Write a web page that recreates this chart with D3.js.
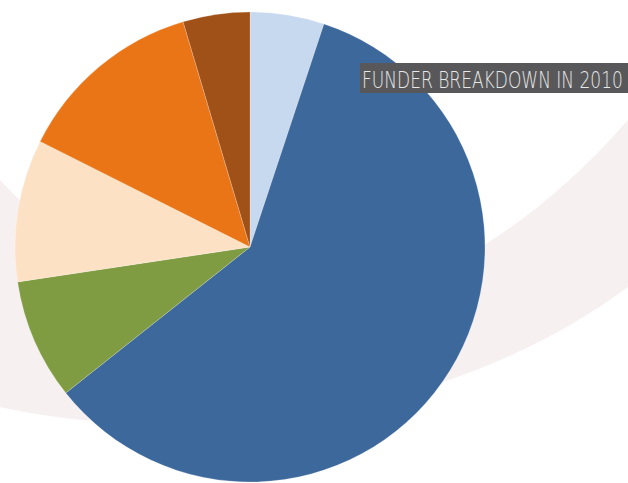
<!DOCTYPE html>
<html>
<head>
<meta charset="utf-8">
<script src="https://d3js.org/d3.v7.min.js"></script>
<style>
  body { margin: 0; background: #fff; }
</style>
</head>
<body>
<div id="container"></div>
<script>
let w = 628;
let h = 483;

// DATA (shares in percent, read clockwise from 12 o'clock)
let funders = ["Funder 1", "Funder 2", "Funder 3", "Funder 4", "Funder 5", "Funder 6"];
let shares = [5.1, 59.3, 8.3, 9.8, 13.0, 4.6];
let colors = ["#c6d9ef", "#3d689c", "#809c43", "#fce1c4", "#ea7517", "#a05118"];
let title = "FUNDER BREAKDOWN IN 2010";

let viz = d3.select("#container").append("svg")
    .attr("width", w)
    .attr("height", h)
    .style("display", "block")
;

// faint background swoosh
viz.append("path")
    .attr("d", "M0,180 C150,340 400,380 628,120 L628,287 C420,440 150,440 0,407 Z")
    .attr("fill", "#f7f0f1")
;

let pieMaker = d3.pie().sort(null).value(function(d){ return d; });
let arcMaker = d3.arc().innerRadius(0).outerRadius(235);

let pieGroup = viz.append("g")
    .attr("transform", "translate(250,247)");

pieGroup.selectAll(".slice").data(pieMaker(shares)).enter()
  .append("path")
    .attr("class", "slice")
    .attr("d", arcMaker)
    .attr("fill", function(d, i){ return colors[i]; })
    .attr("stroke", "#ffffff")
    .attr("stroke-opacity", 0.35)
    .attr("stroke-width", 0.6)
;

// title box
viz.append("rect")
    .attr("x", 360)
    .attr("y", 63)
    .attr("width", 268)
    .attr("height", 30)
    .attr("fill", "#58585a");

let titleText = viz.append("text")
    .attr("x", 0)
    .attr("y", 0)
    .style("font-family", "'DejaVu Sans', sans-serif")
    .style("font-weight", 200)
    .style("font-size", "23px")
    .attr("fill", "#e8e8e8")
    .text(title);

// squeeze the wide font into the box width
let natural = titleText.node().getComputedTextLength();
let sx = 261 / natural;
titleText.attr("transform", "translate(362,88) scale(" + sx + ",1)");
</script>
</body>
</html>
